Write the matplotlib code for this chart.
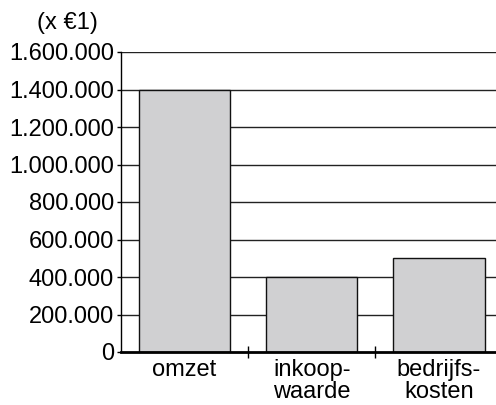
import matplotlib.pyplot as plt

# data
categories = ['omzet', 'inkoop-\nwaarde', 'bedrijfs-\nkosten']
values = [1400000, 400000, 500000]
yticks = [0, 200000, 400000, 600000, 800000, 1000000, 1200000, 1400000, 1600000]

plt.rcParams['font.family'] = ['Liberation Sans', 'DejaVu Sans']

fig = plt.figure(figsize=(4.96, 4.05), dpi=100)
ax = fig.add_axes([121 / 496, 1 - 352 / 405, 1 - 121 / 496, 300 / 405])

# horizontal grid lines behind the bars
for v in yticks[1:]:
    ax.axhline(v, color='#222222', linewidth=1.0, zorder=1)

x = range(len(categories))
ax.bar(x, values, width=0.72, color='#d0d0d2', edgecolor='#111111',
       linewidth=1.0, zorder=2)

ax.set_xlim(-0.5, 2.45)
ax.set_ylim(0, 1600000)

ax.set_yticks(yticks)
ax.set_yticklabels(['0' if v == 0 else f'{v:,}'.replace(',', '.') for v in yticks],
                   fontsize=17)
ax.tick_params(axis='y', length=3, width=1, pad=2)

ax.set_xticks(list(x))
ax.set_xticklabels(categories, fontsize=17, linespacing=0.98)
ax.tick_params(axis='x', length=0, pad=5)
ax.set_xticks([0.5, 1.5], minor=True)
ax.tick_params(axis='x', which='minor', direction='inout', length=8, width=1)

for side in ['top', 'right']:
    ax.spines[side].set_visible(False)
ax.spines['left'].set_linewidth(1.0)
ax.spines['bottom'].set_linewidth(2.0)
ax.spines['bottom'].set_zorder(3)

fig.text(37 / 496, 1 - 23 / 405, '(x €1)', fontsize=17, va='center', ha='left')

fig.savefig('out.png', dpi=100)
